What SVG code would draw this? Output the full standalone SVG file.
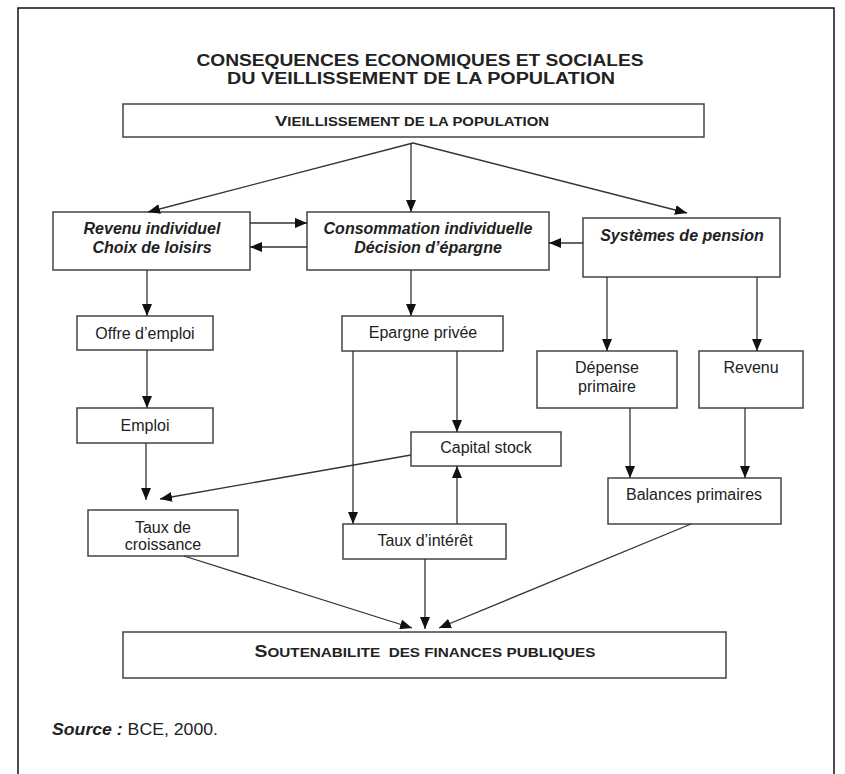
<svg xmlns="http://www.w3.org/2000/svg" width="845" height="774" viewBox="0 0 845 774">
<defs>
<marker id="ah" markerUnits="userSpaceOnUse" markerWidth="12" markerHeight="10" refX="12" refY="5" orient="auto">
<path d="M0,0 L12,5 L0,10 z" fill="#111"/>
</marker>
<style>
.box{fill:#fff;stroke:#444;stroke-width:1.5}
.t{font-family:"Liberation Sans",Arial,sans-serif;font-size:16px;fill:#222;text-anchor:middle}
.bi{font-weight:bold;font-style:italic}
.b{font-weight:bold}
.c line{stroke:#333;stroke-width:1.3;fill:none;marker-end:url(#ah)}
</style>
</defs>
<rect width="845" height="774" fill="#fff"/>
<path d="M18,774 V8 H834 V774" fill="none" stroke="#111" stroke-width="1.5"/>
<g id="title">
<text class="t b" x="420" y="66" font-size="17" textLength="447" lengthAdjust="spacingAndGlyphs">CONSEQUENCES ECONOMIQUES ET SOCIALES</text>
<text class="t b" x="421" y="84" font-size="17" textLength="388" lengthAdjust="spacingAndGlyphs">DU VEILLISSEMENT DE LA POPULATION</text>
</g>
<g id="vieillissement">
<rect class="box" x="123" y="104" width="581" height="33"/>
<text class="t b" x="412" y="126" textLength="274" lengthAdjust="spacingAndGlyphs"><tspan font-size="15.5">V</tspan><tspan font-size="12.5">IEILLISSEMENT DE LA POPULATION</tspan></text>
</g>
<g id="revenu-individuel">
<rect class="box" x="53" y="212" width="197" height="58"/>
<text class="t bi" x="152" y="234">Revenu individuel</text>
<text class="t bi" x="152" y="253">Choix de loisirs</text>
</g>
<g id="consommation">
<rect class="box" x="307" y="212" width="242" height="58"/>
<text class="t bi" x="428" y="234">Consommation individuelle</text>
<text class="t bi" x="428" y="253">Décision d’épargne</text>
</g>
<g id="pension">
<rect class="box" x="583" y="218" width="197" height="59"/>
<text class="t bi" x="682" y="241">Systèmes de pension</text>
</g>
<g id="offre-emploi">
<rect class="box" x="77" y="316" width="136" height="34"/>
<text class="t" x="145" y="339">Offre d’emploi</text>
</g>
<g id="emploi">
<rect class="box" x="77" y="408" width="136" height="35"/>
<text class="t" x="145" y="431">Emploi</text>
</g>
<g id="taux-croissance">
<rect class="box" x="88" y="510" width="150" height="46"/>
<text class="t" x="163" y="533">Taux de</text>
<text class="t" x="163" y="550">croissance</text>
</g>
<g id="epargne-privee">
<rect class="box" x="342" y="316" width="161" height="35"/>
<text class="t" x="423" y="338">Epargne privée</text>
</g>
<g id="capital-stock">
<rect class="box" x="411" y="432" width="150" height="34"/>
<text class="t" x="486" y="453">Capital stock</text>
</g>
<g id="taux-interet">
<rect class="box" x="343" y="524" width="163" height="35"/>
<text class="t" x="425" y="546">Taux d’intérêt</text>
</g>
<g id="depense-primaire">
<rect class="box" x="537" y="351" width="140" height="57"/>
<text class="t" x="607" y="373">Dépense</text>
<text class="t" x="607" y="392">primaire</text>
</g>
<g id="revenu">
<rect class="box" x="699" y="351" width="104" height="57"/>
<text class="t" x="751" y="373">Revenu</text>
</g>
<g id="balances-primaires">
<rect class="box" x="608" y="478" width="173" height="46"/>
<text class="t" x="694" y="500">Balances primaires</text>
</g>
<g id="soutenabilite">
<rect class="box" x="123" y="632" width="603" height="46"/>
<text class="t b" x="425" y="657" textLength="341" lengthAdjust="spacingAndGlyphs" xml:space="preserve"><tspan font-size="16.5">S</tspan><tspan font-size="13">OUTENABILITE  DES FINANCES PUBLIQUES</tspan></text>
</g>
<g id="source">
<text class="t" x="52" y="735" font-size="16" style="text-anchor:start" textLength="166" lengthAdjust="spacingAndGlyphs"><tspan class="bi">Source :</tspan> BCE, 2000.</text>
</g>
<g id="connectors" class="c">
<line x1="413" y1="143" x2="148" y2="212"/>
<line x1="411" y1="143" x2="411" y2="212"/>
<line x1="413" y1="143" x2="687" y2="213"/>
<line x1="250" y1="223" x2="307" y2="223"/>
<line x1="307" y1="247" x2="250" y2="247"/>
<line x1="583" y1="243" x2="549" y2="243"/>
<line x1="147" y1="270" x2="147" y2="316"/>
<line x1="147" y1="350" x2="147" y2="408"/>
<line x1="146" y1="443" x2="146" y2="500"/>
<line x1="411" y1="270" x2="411" y2="316"/>
<line x1="353" y1="351" x2="353" y2="524"/>
<line x1="457" y1="351" x2="457" y2="432"/>
<line x1="411" y1="455" x2="160" y2="499"/>
<line x1="457" y1="524" x2="457" y2="466"/>
<line x1="607" y1="277" x2="607" y2="351"/>
<line x1="757" y1="277" x2="757" y2="351"/>
<line x1="630" y1="408" x2="630" y2="478"/>
<line x1="745" y1="408" x2="745" y2="478"/>
<line x1="184" y1="556" x2="412" y2="628"/>
<line x1="425" y1="559" x2="425" y2="629"/>
<line x1="691" y1="524" x2="439" y2="628"/>
</g>
</svg>
